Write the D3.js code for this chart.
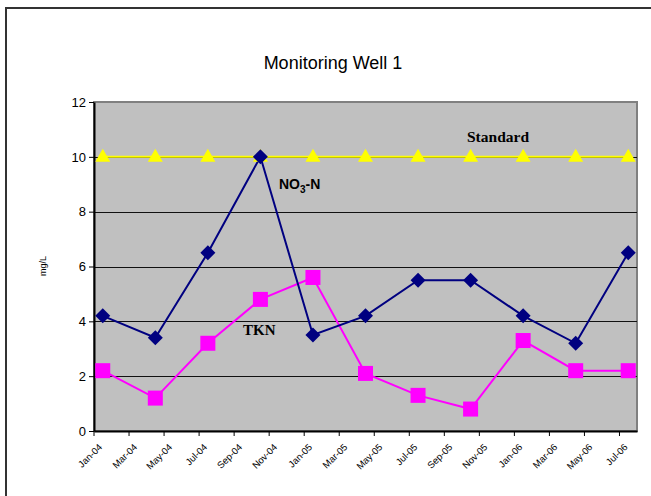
<!DOCTYPE html>
<html>
<head>
<meta charset="utf-8">
<script src="https://cdn.jsdelivr.net/npm/d3@7"></script>
<style>
  html, body { margin: 0; padding: 0; background: #fff; }
  svg { display: block; }
</style>
</head>
<body>
<div id="visual-container"></div>
<script>
const sampleDates = ["Jan-04", "Apr-04", "Jul-04", "Oct-04", "Jan-05", "Apr-05", "Jul-05", "Oct-05", "Jan-06", "Apr-06", "Jul-06"]
const no3Values = [4.2, 3.4, 6.5, 10.0, 3.5, 4.2, 5.5, 5.5, 4.2, 3.2, 6.5]
const tknValues = [2.2, 1.2, 3.2, 4.8, 5.6, 2.1, 1.3, 0.8, 3.3, 2.2, 2.2]
const standardValues = [10, 10, 10, 10, 10, 10, 10, 10, 10, 10, 10]
const tickLabels = ["Jan-04", "Mar-04", "May-04", "Jul-04", "Sep-04", "Nov-04", "Jan-05", "Mar-05", "May-05", "Jul-05", "Sep-05", "Nov-05", "Jan-06", "Mar-06", "May-06", "Jul-06"]
const yTicks = [0, 2, 4, 6, 8, 10, 12]

const width = 651
const height = 496
const plot = { left: 94, right: 637, top: 102, bottom: 431 }

const fmt = d3.timeFormat("%b-%y")
const parse = d3.timeParse("%b-%y")
const months = d3.timeMonth.range(parse("Jan-04"), parse("Aug-06")).map(fmt)

const svg = d3.select('#visual-container')
              .append('svg')
              .attr('width', width)
              .attr('height', height)

// chart frame
svg.append('path')
    .attr('d', `M6,${height + 5} V8 H${width + 5}`)
    .attr('fill', 'none')
    .attr('stroke', '#333')
    .attr('stroke-width', 2)

svg.append('text')
    .attr('x', 333)
    .attr('y', 69)
    .attr('text-anchor', 'middle')
    .style('font-family', 'Liberation Sans, Arial, sans-serif')
    .style('font-size', '18px')
    .text('Monitoring Well 1')

const xScale = d3.scaleBand()
                 .domain(months)
                 .range([plot.left, plot.right])
const xMid = d => xScale(d) + xScale.bandwidth() / 2

const yScale = d3.scaleLinear()
                 .domain([0, 12])
                 .range([plot.bottom, plot.top])

// plot area
svg.append('rect')
    .attr('x', plot.left)
    .attr('y', plot.top)
    .attr('width', plot.right - plot.left)
    .attr('height', plot.bottom - plot.top)
    .attr('fill', '#c0c0c0')
    .attr('stroke', '#808080')
    .attr('stroke-width', 2)

svg.append('g')
    .selectAll('line')
    .data(yTicks.filter(v => v > 0 && v < 12))
    .enter()
    .append('line')
    .attr('x1', plot.left)
    .attr('x2', plot.right)
    .attr('y1', d => Math.round(yScale(d)) + 0.5)
    .attr('y2', d => Math.round(yScale(d)) + 0.5)
    .attr('stroke', '#111')
    .attr('stroke-width', 1)

// axes
const yAxis = d3.axisLeft(yScale).tickValues(yTicks).tickSize(5).tickSizeOuter(0)
const yG = svg.append('g')
    .attr('transform', `translate(${plot.left}, 0)`)
    .call(yAxis)
yG.select('.domain').attr('stroke', '#000').attr('stroke-width', 2)
yG.selectAll('text')
    .style('font-family', 'Liberation Sans, Arial, sans-serif')
    .style('font-size', '13px')
    .attr('fill', '#000')
    .attr('x', -8)

const xAxis = d3.axisBottom(xScale).tickValues(tickLabels).tickSize(5).tickSizeOuter(0)
const xG = svg.append('g')
    .attr('transform', `translate(${-xScale.bandwidth() / 2}, ${plot.bottom})`)
    .call(xAxis)
xG.select('.domain')
    .attr('transform', `translate(${xScale.bandwidth() / 2}, 0)`)
    .attr('stroke', '#000').attr('stroke-width', 2)
xG.selectAll('text')
    .style('font-family', 'Liberation Sans, Arial, sans-serif')
    .style('font-size', '9.5px')
    .attr('fill', '#000')
    .attr('text-anchor', 'end')
    .attr('dy', '0')
    .attr('transform', 'translate(3, 11) rotate(-45)')

svg.append('text')
    .attr('transform', 'translate(46, 266) rotate(-90)')
    .attr('text-anchor', 'middle')
    .style('font-family', 'Liberation Sans, Arial, sans-serif')
    .style('font-size', '9px')
    .text('mg/L')

// series
const drawLine = (values, color) => {
    const line = d3.line()
                   .x((d, i) => xMid(sampleDates[i]))
                   .y(d => yScale(d))
    svg.append('path')
        .datum(values)
        .attr('d', line)
        .attr('fill', 'none')
        .attr('stroke', color)
        .attr('stroke-width', 2)
}

drawLine(standardValues, '#ffff00')
drawLine(tknValues, '#ff00ff')
drawLine(no3Values, '#000080')

svg.append('g')
    .selectAll('path')
    .data(standardValues)
    .enter()
    .append('path')
    .attr('d', 'M0,-8 L7.5,5 L-7.5,5 Z')
    .attr('fill', '#ffff00')
    .attr('transform', (d, i) => `translate(${xMid(sampleDates[i])}, ${yScale(d)})`)

svg.append('g')
    .selectAll('rect')
    .data(tknValues)
    .enter()
    .append('rect')
    .attr('width', 15)
    .attr('height', 15)
    .attr('x', (d, i) => xMid(sampleDates[i]) - 7.5)
    .attr('y', d => yScale(d) - 7.5)
    .attr('fill', '#ff00ff')

svg.append('g')
    .selectAll('path')
    .data(no3Values)
    .enter()
    .append('path')
    .attr('d', 'M0,-7.5 L7.5,0 L0,7.5 L-7.5,0 Z')
    .attr('fill', '#000080')
    .attr('transform', (d, i) => `translate(${xMid(sampleDates[i])}, ${yScale(d)})`)

// series labels
svg.append('text')
    .attr('x', 467)
    .attr('y', 142)
    .style('font-family', 'Liberation Serif, Times New Roman, serif')
    .style('font-size', '15.5px')
    .style('font-weight', 'bold')
    .text('Standard')

const no3Label = svg.append('text')
    .attr('x', 279)
    .attr('y', 189)
    .style('font-family', 'Liberation Sans, Arial, sans-serif')
    .style('font-size', '14px')
    .style('font-weight', 'bold')
no3Label.append('tspan').text('NO')
no3Label.append('tspan').attr('dy', 4).style('font-size', '10px').text('3')
no3Label.append('tspan').attr('dy', -4).text('-N')

svg.append('text')
    .attr('x', 243)
    .attr('y', 335)
    .style('font-family', 'Liberation Serif, Times New Roman, serif')
    .style('font-size', '15px')
    .style('font-weight', 'bold')
    .text('TKN')
</script>
</body>
</html>
